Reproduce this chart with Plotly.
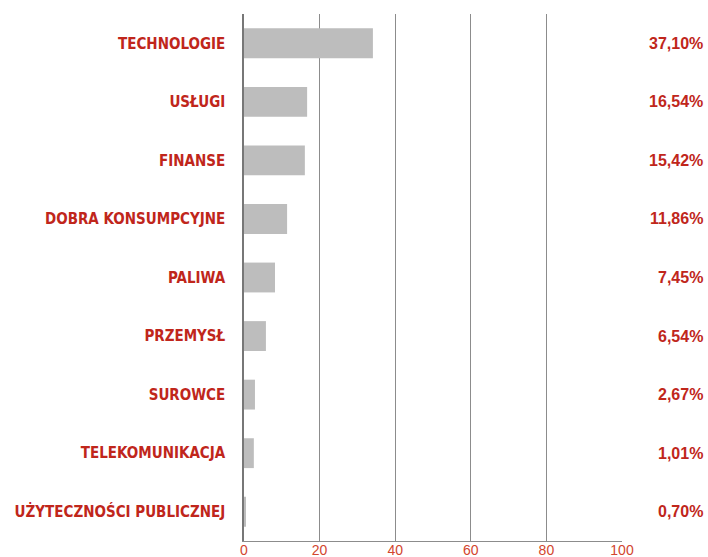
import plotly.graph_objects as go

categories = ["TECHNOLOGIE", "USŁUGI", "FINANSE", "DOBRA KONSUMPCYJNE", "PALIWA",
              "PRZEMYSŁ", "SUROWCE", "TELEKOMUNIKACJA", "UŻYTECZNOŚCI PUBLICZNEJ"]
bar_values = [34.1, 16.7, 16.1, 11.4, 8.2, 5.8, 2.9, 2.6, 0.5]
pct_labels = ["37,10%", "16,54%", "15,42%", "11,86%", "7,45%", "6,54%", "2,67%", "1,01%", "0,70%"]
x_ticks = [0, 20, 40, 60, 80, 100]

RED = "#c0261b"
TICKRED = "#d2452e"

fig = go.Figure()
fig.add_trace(go.Bar(
    y=categories, x=bar_values, orientation="h",
    marker=dict(color="#bdbdbd", line=dict(width=0)),
    width=0.51, hoverinfo="skip",
))

for cat, lab in zip(categories, pct_labels):
    fig.add_annotation(
        x=1, xref="paper", y=cat, yref="y", text=lab, showarrow=False,
        xanchor="right", xshift=83,
        font=dict(family="Liberation Sans, Arial, sans-serif", size=16, color=RED, weight="bold"),
    )

fig.update_layout(
    width=708, height=557,
    margin=dict(l=244, r=86, t=14, b=16, autoexpand=False),
    paper_bgcolor="white", plot_bgcolor="white",
    showlegend=False,
    xaxis=dict(
        range=[0, 100], tickvals=x_ticks, showgrid=True, gridcolor="#8c8c8c", gridwidth=1,
        zeroline=False, showline=True, linecolor="#8c8c8c", linewidth=1,
        ticks="", ticklabelstandoff=-4,
        tickfont=dict(family="Liberation Sans, Arial, sans-serif", size=14, color=TICKRED),
        fixedrange=True, automargin=False,
    ),
    yaxis=dict(
        categoryorder="array", categoryarray=categories[::-1],
        showgrid=False, zeroline=False, showline=True, linecolor="#777777", linewidth=1.5,
        ticks="", ticklabelstandoff=14, automargin=False,
        tickfont=dict(family="DejaVu Sans Condensed, sans-serif", size=15,
                      color=RED, weight="bold"),
        fixedrange=True,
    ),
)

fig.write_html("out.html", config={"displayModeBar": False},
               post_script="document.body.style.margin='0';document.body.style.overflow='hidden';")
